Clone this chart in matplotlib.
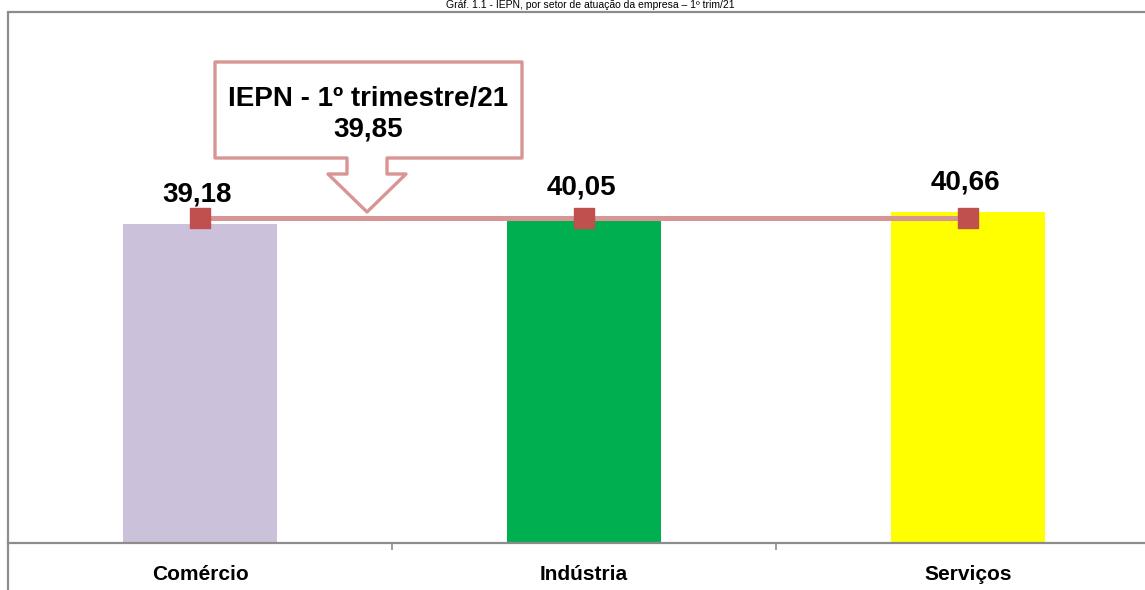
import matplotlib
matplotlib.use("Agg")
import matplotlib.pyplot as plt
from matplotlib.patches import Polygon, Rectangle

# data
categories = ["Comércio", "Indústria", "Serviços"]
values = [39.18, 40.05, 40.66]
iepn_total = 39.85
value_labels = ["39,18", "40,05", "40,66"]
callout_text = "IEPN - 1º trimestre/21\n39,85"
title = "Gráf. 1.1 - IEPN, por setor de atuação da empresa – 1º trim/21"

bar_colors = ["#CCC1DA", "#00B050", "#FFFF00"]
line_color = "#D99594"
marker_color = "#C0504D"
frame_color = "#8C8C8C"

W, H = 1145, 590
narrow = ["Liberation Sans Narrow", "Liberation Sans", "DejaVu Sans"]


def px(x, y):
    """pixel (from top-left) -> figure fraction"""
    return x / W, 1 - y / H


fig = plt.figure(figsize=(W / 100, H / 100), dpi=100)

# outer chart frame (left and top edges visible)
fig.patches.append(Rectangle(px(8, 700), (1300) / W, (700 - 12) / H,
                             transform=fig.transFigure, fill=False,
                             edgecolor=frame_color, linewidth=1.6))

# title above the frame
fig.text(590 / W, 1 - 5.5 / H, title, ha="center", va="center",
         fontsize=7.5, family=["Liberation Sans", "DejaVu Sans"])

# plot area
left, bottom = px(8, 543)
ax = fig.add_axes([left, bottom, 1152 / W, (543 - 12) / H])
ax.set_facecolor("none")
x = list(range(len(categories)))
ax.bar(x, values, width=0.4, color=bar_colors, zorder=2)
ax.plot(x, [iepn_total] * len(x), color=line_color, linewidth=3.6,
        marker="s", markersize=14, markerfacecolor=marker_color,
        markeredgecolor=marker_color, zorder=3)

for xi, v, lab in zip(x, values, value_labels):
    ax.annotate(lab, (xi, v), xytext=(-2, 12), textcoords="offset points",
                ha="center", va="bottom", fontsize=20, fontweight="bold",
                family=narrow, zorder=4)

ax.set_xlim(-0.5, 2.5)
ax.set_ylim(0, 65.2)
ax.set_yticks([])
for s in ["left", "right", "top"]:
    ax.spines[s].set_visible(False)
ax.spines["bottom"].set_color(frame_color)
ax.spines["bottom"].set_linewidth(1.6)
ax.set_xticks(x)
ax.set_xticklabels(categories, fontsize=15, fontweight="bold", family=narrow)
ax.tick_params(axis="x", which="major", length=0, pad=16)
ax.set_xticks([0.5, 1.5], minor=True)
ax.tick_params(axis="x", which="minor", length=5, width=1.2,
               color=frame_color, direction="out")

# callout box with arrow pointing to the IEPN line
pts = [(215, 62), (522, 62), (522, 158), (387, 158), (387, 174), (406, 174),
       (367, 212), (328, 174), (347, 174), (347, 158), (215, 158)]
fig.patches.append(Polygon([px(a, b) for a, b in pts], closed=True,
                           transform=fig.transFigure, facecolor="white",
                           edgecolor=line_color, linewidth=2.4,
                           joinstyle="round", zorder=5))
fig.text(*px(368, 114), callout_text, ha="center", va="center",
         fontsize=20, fontweight="bold", family=narrow, linespacing=1.25,
         zorder=6)

fig.savefig("out.png", dpi=100, facecolor="white")
